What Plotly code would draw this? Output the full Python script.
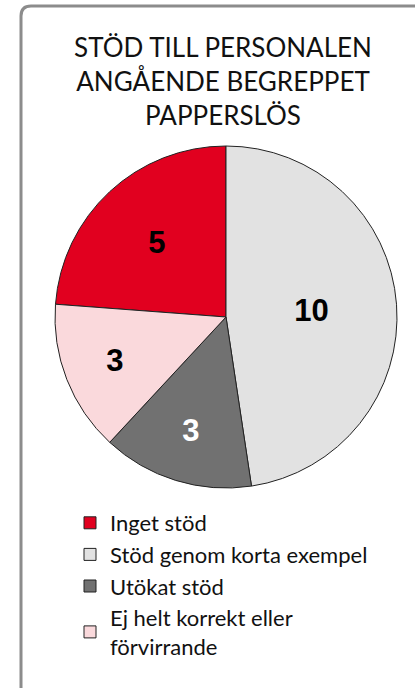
import plotly.graph_objects as go

labels = ['Inget stöd', 'Stöd genom korta exempel', 'Utökat stöd',
          'Ej helt korrekt eller<br>förvirrande']
values = [5, 10, 3, 3]
colors = ['#E1001F', '#E2E2E2', '#717171', '#FAD9DC']
text_colors = ['black', 'black', 'white', 'black']

W, H = 415, 688

# first slice (red) ends at 12 o'clock, so the grey one starts there
start = -360 * values[0] / sum(values)

fig = go.Figure(data=[go.Pie(
    labels=labels, values=values, sort=False, direction='clockwise',
    rotation=start,
    marker=dict(colors=colors, line=dict(color='#222222', width=1)),
    textinfo='value', textposition='inside', insidetextorientation='horizontal',
    textfont=dict(family='Liberation Sans', size=31, color=text_colors, weight='bold'),
    domain=dict(x=[55 / W, 397 / W], y=[1 - 488 / H, 1 - 146 / H]),
    hoverinfo='label+value',
)])

fig.update_layout(
    width=W, height=H,
    margin=dict(l=0, r=0, t=0, b=0),
    paper_bgcolor='white',
    font=dict(family='Lato', color='black'),
    title=dict(text='STÖD TILL PERSONALEN<br>ANGÅENDE BEGREPPET<br>PAPPERSLÖS',
               x=223 / W, xanchor='center', y=1 - 57 / H, yanchor='top',
               font=dict(size=26, color='#111111')),
    legend=dict(x=70 / W, xanchor='left', y=1 - 502 / H, yanchor='top',
                font=dict(size=22, color='#111111'), traceorder='normal',
                itemclick=False),
    shapes=[dict(type='path', xref='paper', yref='paper',
                 path=f'M {21 / W},-0.05 L {21 / W},{1 - 16 / H} '
                      f'Q {21 / W},{1 - 6 / H} {31 / W},{1 - 6 / H} L 1.05,{1 - 6 / H}',
                 line=dict(color='#8c8c8c', width=3))],
)

# the page body has a default 8px margin; drop it so the figure sits at 0,0
fig.write_html('out.html', config={'displayModeBar': False},
               post_script="document.body.style.margin='0';")
